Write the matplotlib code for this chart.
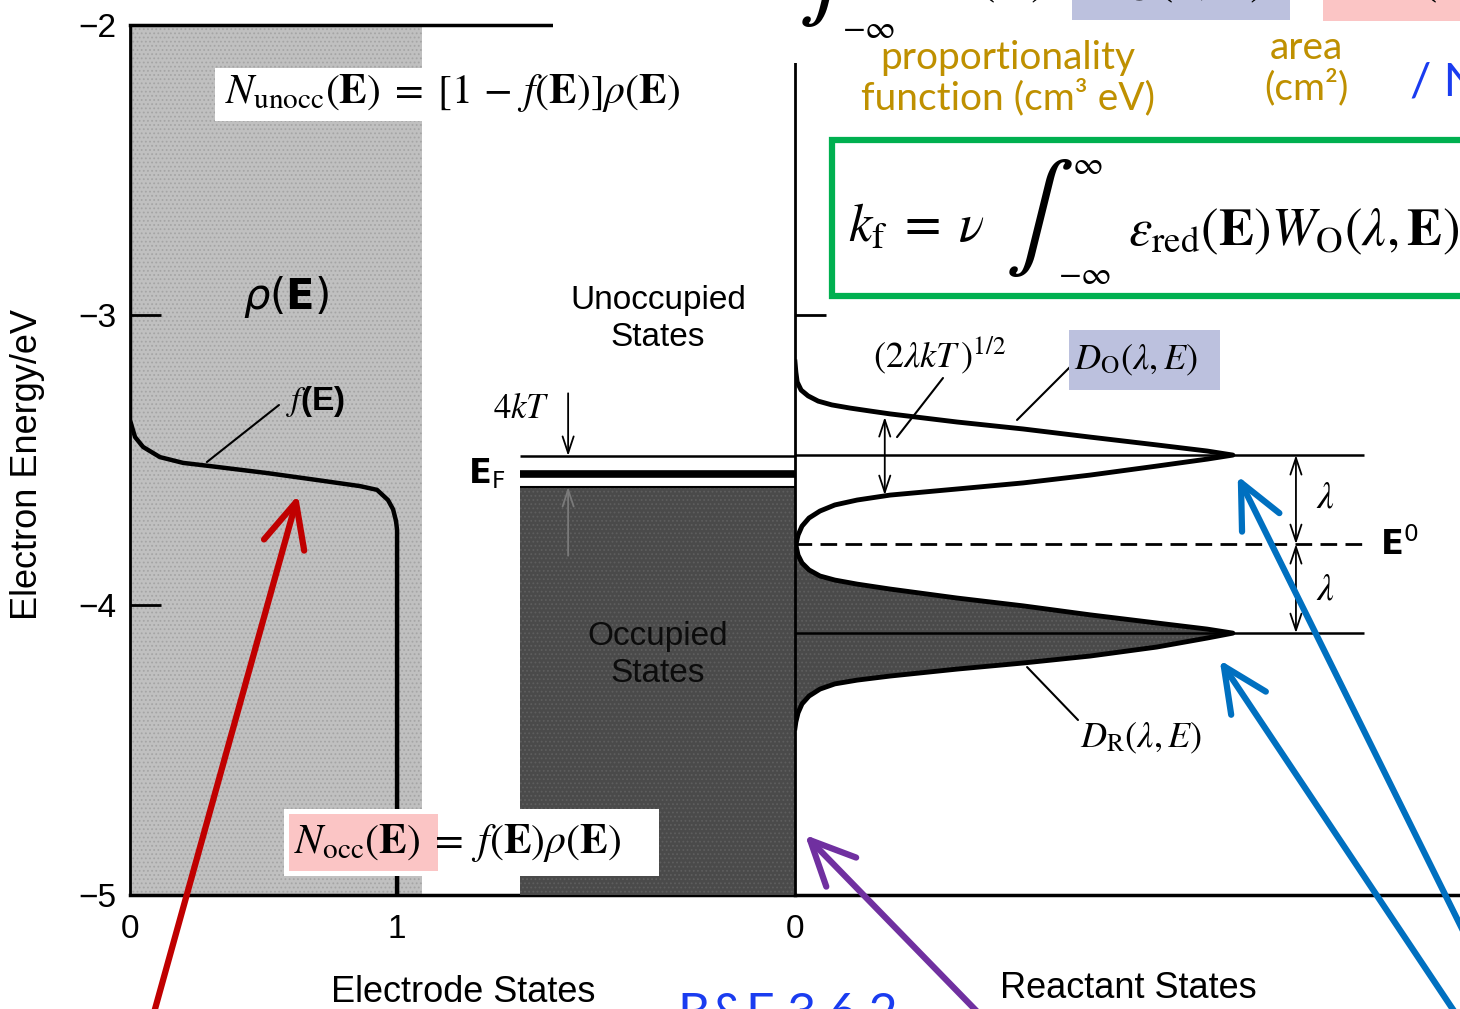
import matplotlib
matplotlib.use("Agg")
import matplotlib.pyplot as plt
from matplotlib.patches import Rectangle

plt.rcParams['font.family'] = ['Liberation Sans', 'DejaVu Sans']
plt.rcParams['hatch.linewidth'] = 0.8

# --- eletrodo: curva f(E) (ocupação 0..1) e energia (eV)
f_occ = [0, 0, 0.011, 0.019, 0.049, 0.112, 0.199, 0.300, 0.513, 0.700,
         0.861, 0.925, 0.966, 0.985, 0.996, 1.0, 1.0]
f_energy = [-2.0, -3.362, -3.397, -3.421, -3.455, -3.490, -3.510, -3.521,
            -3.545, -3.569, -3.590, -3.603, -3.638, -3.670, -3.710, -3.741, -5.0]
rho_extent = 1.094

# --- níveis do eletrodo (eV)
ef_top = -3.486
ef_level = -3.547
occ_top = -3.593

# --- estados do reagente (eV)
e_ox = -3.483
e_zero = -3.790
e_red = -4.097

do_energy = [-3.162, -3.197, -3.231, -3.259, -3.279, -3.297, -3.310, -3.321,
             -3.331, -3.341, -3.369, -3.393, -3.421, -3.448, -3.469, -3.483,
             -3.497, -3.521, -3.552, -3.579, -3.600, -3.621, -3.638, -3.655,
             -3.676, -3.700, -3.728, -3.759, -3.793]
do_value = [0.0, 0.002, 0.005, 0.014, 0.030, 0.053, 0.084, 0.126,
            0.171, 0.217, 0.370, 0.521, 0.674, 0.826, 0.941, 1.0,
            0.941, 0.826, 0.674, 0.521, 0.370, 0.217, 0.142, 0.091,
            0.057, 0.032, 0.016, 0.007, 0.002]

dr_energy = [-3.793, -3.828, -3.855, -3.879, -3.900, -3.914, -3.928, -3.945,
             -3.976, -4.003, -4.034, -4.062, -4.083, -4.097, -4.114, -4.145,
             -4.176, -4.200, -4.221, -4.245, -4.259, -4.272, -4.290, -4.314,
             -4.341, -4.372, -4.403, -4.424]
dr_value = [0.002, 0.007, 0.016, 0.032, 0.057, 0.091, 0.142, 0.217,
            0.370, 0.521, 0.674, 0.826, 0.941, 1.0, 0.941, 0.826,
            0.674, 0.521, 0.370, 0.217, 0.142, 0.091, 0.057, 0.032,
            0.016, 0.007, 0.002, 0.0]

energy_ticks = [-5, -4, -3, -2]
state_ticks = [0, 1]

W, H = 1460, 1009
fig = plt.figure(figsize=(W / 100, H / 100), dpi=100)


def box(x0, y0, x1, y1):
    return [x0 / W, 1 - y1 / H, (x1 - x0) / W, (y1 - y0) / H]


def rect(x0, y0, x1, y1, **kw):
    fig.add_artist(Rectangle((x0 / W, 1 - y1 / H), (x1 - x0) / W, (y1 - y0) / H,
                             transform=fig.transFigure, **kw))


def label(x, y, s, **kw):
    kw.setdefault('va', 'center')
    fig.text(x / W, 1 - y / H, s, **kw)


def pointer(ax, xy, tail, **kw):
    ax.annotate('', xy=xy, xytext=(tail[0], H - tail[1]), textcoords='figure pixels',
                annotation_clip=False,
                arrowprops=dict(shrinkA=0, shrinkB=0, **kw))


DARK = '#4a4a4a'
GRAY = '#c0c0c0'
MATH = dict(math_fontfamily='stix')

# --- painel esquerdo: estados do eletrodo
ax_l = fig.add_axes(box(130, 25, 795, 895))
ax_l.set_xlim(0, 2.49)
ax_l.set_ylim(-5, -2)
ax_l.fill_betweenx([-5, -2], 0, rho_extent, facecolor=GRAY, hatch='....',
                   edgecolor='#a5a5a5', lw=0)
ax_l.plot(f_occ, f_energy, color='k', lw=3.2, solid_joinstyle='round')
ax_l.spines['right'].set_visible(False)
ax_l.spines['left'].set_linewidth(2)
ax_l.spines['top'].set_linewidth(2.5)
ax_l.spines['bottom'].set_linewidth(2.5)
ax_l.set_yticks(energy_ticks)
ax_l.set_xticks(state_ticks)
ax_l.tick_params(axis='y', direction='in', length=22, width=2, labelsize=24, pad=10)
ax_l.tick_params(axis='x', length=0, labelsize=24, pad=14)
pointer(ax_l, (0.288, -3.507), (279, 405), arrowstyle='-', lw=1.5, color='k')

# --- bloco de estados ocupados
ax_m = fig.add_axes(box(520, 25, 795, 895))
ax_m.set_xlim(1, 0)
ax_m.set_ylim(-5, -2)
ax_m.axis('off')
ax_m.fill_betweenx([-5, occ_top], 0, 1, facecolor=DARK, hatch='....',
                   edgecolor='#5e5e5e', lw=0)
ax_m.hlines(ef_top, 0, 1, color='k', lw=1.8)
ax_m.hlines(ef_level, 0, 1, color='k', lw=5.5)
ax_m.hlines(occ_top, 0, 1, color='k', lw=1.5)
ax_m.annotate('', xy=(0.825, ef_top), xytext=(0.825, -3.27),
              arrowprops=dict(arrowstyle='->,head_length=1.2,head_width=0.4',
                              lw=1.3, color='k', shrinkA=0, shrinkB=0))
ax_m.annotate('', xy=(0.825, occ_top), xytext=(0.825, -3.83),
              arrowprops=dict(arrowstyle='->,head_length=1.2,head_width=0.4',
                              lw=1.3, color='#7a7a7a', shrinkA=0, shrinkB=0))

# --- painel direito: estados do reagente
ax_r = fig.add_axes(box(795, 25, 1500, 895))
ax_r.patch.set_visible(False)
ax_r.set_xlim(0, 1.61)
ax_r.set_ylim(-5, -2)
ax_r.spines[['top', 'right']].set_visible(False)
ax_r.spines['left'].set_linewidth(2)
ax_r.spines['bottom'].set_linewidth(2.5)
ax_r.set_yticks([-3])
ax_r.set_yticklabels([])
ax_r.tick_params(axis='y', direction='in', length=22, width=2)
ax_r.set_xticks([0])
ax_r.tick_params(axis='x', length=0, labelsize=24, pad=14)

ax_r.fill_betweenx(dr_energy, 0, dr_value, facecolor=DARK, hatch='....',
                   edgecolor='#5e5e5e', lw=0)
ax_r.plot(dr_value, dr_energy, color='k', lw=3.5, solid_joinstyle='round')
ax_r.plot(do_value, do_energy, color='k', lw=3.5, solid_joinstyle='round')
ax_r.hlines([e_ox, e_red], 0, 1.30, color='k', lw=1.8)
ax_r.hlines(e_zero, 0, 1.30, color='k', lw=2, linestyles=(0, (6, 3)))

dbl = dict(arrowstyle='<->,head_length=1.2,head_width=0.4', lw=1.3, color='k',
           shrinkA=0, shrinkB=0)
ax_r.annotate('', xy=(0.205, -3.352), xytext=(0.205, -3.621), arrowprops=dbl)
ax_r.annotate('', xy=(1.144, e_ox), xytext=(1.144, e_zero), arrowprops=dbl)
ax_r.annotate('', xy=(1.144, e_zero), xytext=(1.144, e_red), arrowprops=dbl)
pointer(ax_r, (0.233, -3.421), (943, 378), arrowstyle='-', lw=1.5, color='k')
pointer(ax_r, (0.507, -3.362), (1070, 367), arrowstyle='-', lw=1.5, color='k')
pointer(ax_r, (0.530, -4.214), (1078, 720), arrowstyle='-', lw=1.5, color='k')

# --- setas coloridas
big = '->,head_length=1.6,head_width=0.75'
pointer(ax_l, (0.629, -3.621), (145, 1045), arrowstyle=big, mutation_scale=20,
        lw=4.5, color='#c00000')
pointer(ax_r, (0.023, -4.793), (995, 1030), arrowstyle=big, mutation_scale=20,
        lw=4.5, color='#7030a0')
pointer(ax_r, (1.011, -3.555), (1480, 965), arrowstyle=big, mutation_scale=20,
        lw=4.5, color='#0070c0')
pointer(ax_r, (0.970, -4.190), (1470, 1035), arrowstyle=big, mutation_scale=20,
        lw=4.5, color='#0070c0')

# --- caixas e textos sobrepostos
rect(553, -20, 1520, 63, facecolor='white', lw=0)
rect(1072, -20, 1290, 20, facecolor='#bcc1de', lw=0)
rect(1323, -20, 1520, 21, facecolor='#fbc5c5', lw=0)
rect(215, 68, 700, 121, facecolor='white', lw=0)
rect(284, 809, 659, 876, facecolor='white', lw=0)
rect(289, 814, 438, 871, facecolor='#fbc5c5', lw=0)
rect(1069, 330, 1220, 390, facecolor='#bcc1de', lw=0)
rect(832, 140, 1530, 296, facecolor='white', edgecolor='#00b050', lw=4.5)

label(28, 465, 'Electron Energy/eV', rotation=90, ha='center', fontsize=26)
label(463, 993, 'Electrode States', ha='center', fontsize=26)
label(1128, 988, 'Reactant States', ha='center', fontsize=26)
label(658, 319, 'Unoccupied\nStates', ha='center', fontsize=24, linespacing=1.25)
label(658, 655, 'Occupied\nStates', ha='center', fontsize=24, linespacing=1.25,
      color='#0c0c0c')

label(225, 93, r'$N_{\mathrm{unocc}}(\mathbf{E})\;=\;[1\,-\,f(\mathbf{E})]\rho(\mathbf{E})$',
      fontsize=30, **MATH)
label(294, 843, r'$N_{\mathrm{occ}}(\mathbf{E})\;=\;f(\mathbf{E})\rho(\mathbf{E})$',
      fontsize=30, **MATH)
label(243, 297, r'$\rho(\mathbf{E})$', fontsize=30, math_fontfamily='dejavusans')
label(286, 402, r'$f$(E)', fontsize=24, fontweight='bold', **MATH)
label(521, 408, r'$4\mathit{k}T$', ha='center', fontsize=25, **MATH)
label(468, 474, r'$\mathbf{E}_{\mathrm{F}}$', fontsize=24, math_fontfamily='dejavusans')
label(873, 355, r'$(2\lambda\mathit{k}T\,)^{1/2}$', fontsize=26, **MATH)
label(1074, 360, r'$D_{\mathrm{O}}(\lambda,E)$', fontsize=26, **MATH)
label(1080, 738, r'$D_{\mathrm{R}}(\lambda,E)$', fontsize=26, **MATH)
label(1316, 498, r'$\lambda$', fontsize=27, **MATH)
label(1316, 590, r'$\lambda$', fontsize=27, **MATH)
label(1380, 545, r'$\mathbf{E}^{0}$', fontsize=24, math_fontfamily='dejavusans')

# fórmula da caixa verde
label(848, 228, r'$k_{\mathrm{f}}\;=\;\nu$', fontsize=38, **MATH)
label(1005, 218, r'$\int$', fontsize=74, **MATH)
label(1072, 166, r'$\infty$', fontsize=24, **MATH)
label(1058, 275, r'$-\infty$', fontsize=24, **MATH)
label(1128, 232, r'$\varepsilon_{\mathrm{red}}(\mathbf{E})W_{\mathrm{O}}(\lambda,\mathbf{E})$',
      fontsize=38, **MATH)

# fragmentos da fórmula do topo (cortada)
label(798, -32, r'$\int$', fontsize=74, **MATH)
label(842, 30, r'$-\infty$', fontsize=24, **MATH)
label(905, -7, r'$\varepsilon_{\mathrm{red}}(\mathbf{E})$', va='baseline', fontsize=38, **MATH)
label(1082, -7, r'$W_{\mathrm{O}}(\lambda,E)$', va='baseline', fontsize=38, **MATH)
label(1330, -7, r'$N_{\mathrm{occ}}(\mathbf{E})$', va='baseline', fontsize=38, **MATH)

gold = dict(color='#bf9000', family='Lato', fontsize=28, ha='center', linespacing=1.1)
label(1008, 78, 'proportionality\nfunction (cm³ eV)', **gold)
label(1306, 68, 'area\n(cm²)', **gold)
label(1410, 82, '/ N', color='#1a3cf0', family='Lato', fontsize=34)
label(678, 992, 'B&F 3.6.2', color='#1a3cf0', family='Lato', fontsize=36, va='top')

fig.savefig('out.png', dpi=100)
